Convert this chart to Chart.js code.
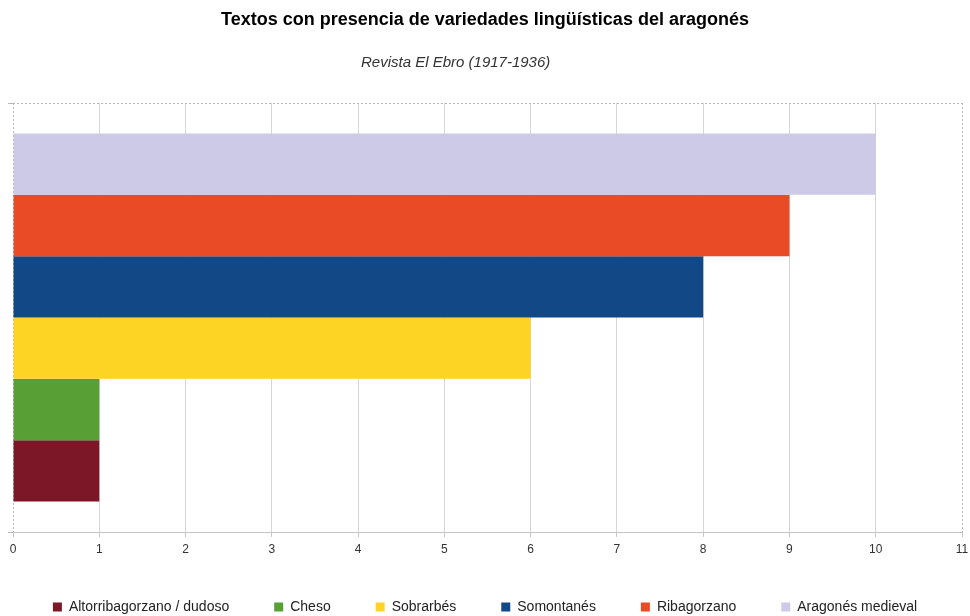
<!DOCTYPE html>
<html>
<head>
<meta charset="utf-8">
<script src="https://cdn.jsdelivr.net/npm/chart.js@4"></script>
<style>
  html, body { margin: 0; padding: 0; background: #ffffff; }
  #c { display: block; }
</style>
</head>
<body>
<canvas id="c" width="970" height="616"></canvas>
<script>
// ---- data ----
const categories = ['Revista El Ebro (1917-1936)'];
const seriesNames = ['Altorribagorzano / dudoso', 'Cheso', 'Sobrarbés', 'Somontanés', 'Ribagorzano', 'Aragonés medieval'];
const seriesValues = [1, 1, 6, 8, 9, 10];
const axisMin = 0;
const axisMax = 11;
const titleText = 'Textos con presencia de variedades lingüísticas del aragonés';
const subtitleText = 'Revista El Ebro (1917-1936)';

// ---- styles ----
const seriesColors = ['#7b1727', '#58a035', '#fed424', '#134886', '#e84b25', '#cccae6'];
const FONT = 'Liberation Sans';
const LEGEND_PAD = 45;

// top bar first => reverse legend order for datasets
const datasets = seriesNames.map((name, i) => ({
  label: name,
  data: [seriesValues[i]],
  backgroundColor: seriesColors[i],
  borderWidth: 0,
  categoryPercentage: 0.858,
  barPercentage: 1.0
})).reverse();

const legendHeightFix = {
  id: 'legendHeightFix',
  beforeLayout(chart) {
    const lg = chart.legend;
    if (lg && !lg.__fixed) {
      const orig = lg.fit;
      lg.fit = function () { orig.call(this); this.height = 61; };
      lg.__fixed = true;
    }
  }
};

// subtitle drawn slightly left of centre, as in the reference
const subtitlePlugin = {
  id: 'subtitleText',
  afterDraw(chart) {
    const ctx = chart.ctx;
    ctx.save();
    ctx.font = 'italic 15px "' + FONT + '"';
    ctx.fillStyle = '#333333';
    ctx.textAlign = 'left';
    ctx.textBaseline = 'middle';
    ctx.fillText(subtitleText, 361, 63);
    ctx.restore();
  }
};

const edgeDash = (c) => (c.type === 'tick' && c.tick && (c.tick.value === axisMin || c.tick.value === axisMax)) ? [2, 2] : [];

new Chart(document.getElementById('c'), {
  type: 'bar',
  data: { labels: categories, datasets },
  plugins: [legendHeightFix, subtitlePlugin],
  options: {
    indexAxis: 'y',
    responsive: false,
    animation: false,
    layout: { padding: { left: 0, right: 0, top: 0, bottom: 0 } },
    font: { family: FONT },
    scales: {
      x: {
        type: 'linear',
        min: axisMin,
        max: axisMax,
        position: 'bottom',
        ticks: { stepSize: 1, color: '#333333', font: { family: FONT, size: 12 }, padding: 5 },
        grid: {
          color: (c) => (c.tick && (c.tick.value === axisMin || c.tick.value === axisMax)) ? '#b4b4b4' : '#d6d6d6',
          tickColor: '#c8c8c8',
          tickLength: 5,
          lineWidth: 1
        },
        border: { display: true, color: '#c4c4c4', dash: edgeDash },
        afterFit(s) { s.height = 23; s.paddingRight = 8; s.paddingLeft = 0; }
      },
      y: {
        type: 'category',
        offset: true,
        ticks: { display: false },
        grid: { display: true, offset: true, color: '#b8b8b8', tickColor: '#b8b8b8', tickLength: 5, drawTicks: true },
        border: { display: false, dash: [2, 2] },
        afterFit(s) { s.width = 13; }
      }
    },
    plugins: {
      title: {
        display: true,
        text: titleText,
        color: '#000000',
        font: { family: FONT, size: 18, weight: 'bold' },
        padding: { top: 9, bottom: 72.4 }
      },
      subtitle: { display: false },
      legend: {
        display: true,
        position: 'bottom',
        reverse: true,
        labels: {
          boxWidth: 9,
          boxHeight: 9,
          padding: LEGEND_PAD,
          color: '#222222',
          font: { family: FONT, size: 14 }
        }
      },
      tooltip: { enabled: false }
    }
  }
});
</script>
</body>
</html>
